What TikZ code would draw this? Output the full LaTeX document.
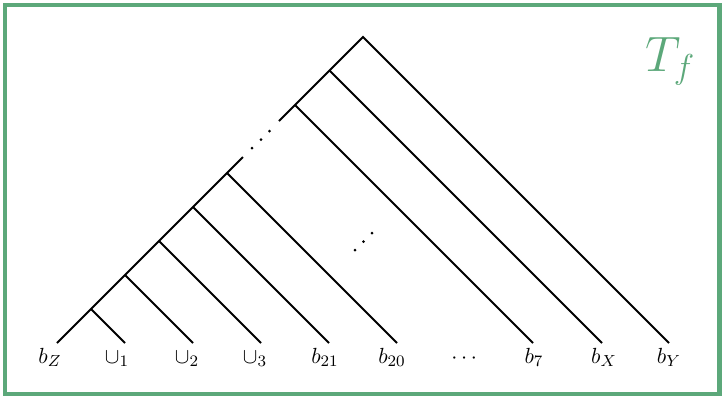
\documentclass[tikz,border=0pt]{standalone}
\usepackage{amsmath}
\definecolor{tfgreen}{RGB}{92,168,122}
\begin{document}
\begin{tikzpicture}[x=0.5pt,y=-0.5pt,
  edge/.style={line width=0.9pt},
  leaflabel/.style={anchor=base,inner sep=0pt,font=\fontsize{10.8}{12}\selectfont},
  gapdot/.style={fill=black,circle,inner sep=0pt,minimum size=1.5pt}]
\useasboundingbox (0,0) rectangle (724,398);
\draw[tfgreen,line width=2.3pt] (5,5) rectangle (719.5,394);
\node[tfgreen,anchor=base west,inner sep=0pt,font=\fontsize{27}{32}\selectfont] (title) at (645,71) {$T_f$};
% tree points
\coordinate (R) at (363,37);
\coordinate (nX) at (329.5,70.5);
\coordinate (n7) at (295,105);
\coordinate (g2) at (279,121);
\coordinate (g1) at (243,157);
\coordinate (n20) at (227,173);
\coordinate (n21) at (193,207);
\coordinate (n3) at (159,241);
\coordinate (n2) at (125,275);
\coordinate (n1) at (91,309);
\coordinate (lZ) at (57,343);
\coordinate (l1) at (125,343);
\coordinate (l2) at (193,343);
\coordinate (l3) at (261,343);
\coordinate (l21) at (329,343);
\coordinate (l20) at (397,343);
\coordinate (l7) at (533,343);
\coordinate (lX) at (602,343);
\coordinate (lY) at (669,343);
\draw[edge] (lY) -- (R) -- (nX) -- (n7) -- (g2);
\draw[edge] (nX) -- (lX);
\draw[edge] (n7) -- (l7);
\draw[edge] (g1) -- (n20) -- (n21) -- (n3) -- (n2) -- (n1) -- (lZ);
\draw[edge] (n20) -- (l20);
\draw[edge] (n21) -- (l21);
\draw[edge] (n3) -- (l3);
\draw[edge] (n2) -- (l2);
\draw[edge] (n1) -- (l1);
% dots in the spine gap
\node[gapdot] (d1) at (252,148) {};
\node[gapdot] (d2) at (261,139.5) {};
\node[gapdot] (d3) at (269.5,131) {};
% middle dots
\node[gapdot] (m1) at (355,250) {};
\node[gapdot] (m2) at (363.5,241.5) {};
\node[gapdot] (m3) at (372,233) {};
% labels
\node[leaflabel] (tZ) at (50,363) {$b_Z$};
\node[leaflabel] (t1) at (117,363) {$\cup_1$};
\node[leaflabel] (t2) at (187,363) {$\cup_2$};
\node[leaflabel] (t3) at (255,363) {$\cup_3$};
\node[leaflabel] (t21) at (325,363) {$b_{21}$};
\node[leaflabel] (t20) at (392,363) {$b_{20}$};
\node[leaflabel] (tdots) at (466,363) {$\cdots$};
\node[leaflabel] (t7) at (534,363) {$b_7$};
\node[leaflabel] (tX) at (604,363) {$b_X$};
\node[leaflabel] (tY) at (669,363) {$b_Y$};
\end{tikzpicture}
\end{document}
